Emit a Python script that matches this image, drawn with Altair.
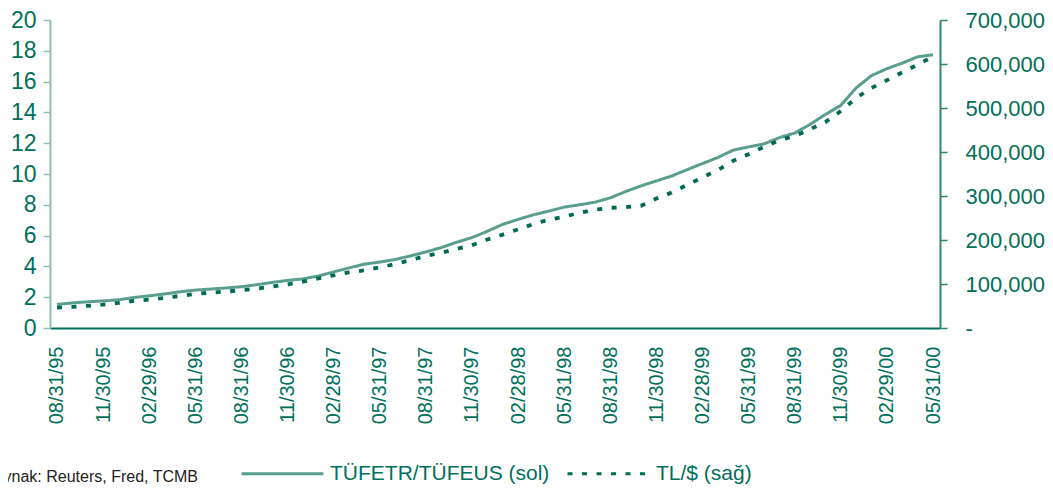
import altair as alt
import pandas as pd

# ---- data ----
S1 = "TÜFETR/TÜFEUS (sol)"
S2 = "TL/$ (sağ)"

dates = pd.date_range("1995-08-31", periods=58, freq=pd.offsets.MonthEnd())
labels = [d.strftime("%m/%d/%y") for d in dates]

tufe_ratio = [
    1.53, 1.63, 1.70, 1.76, 1.83, 1.98, 2.09, 2.21, 2.35, 2.46,
    2.53, 2.60, 2.68, 2.81, 2.96, 3.09, 3.19, 3.38, 3.64, 3.90,
    4.15, 4.28, 4.45, 4.68, 4.94, 5.22, 5.57, 5.87, 6.28, 6.73,
    7.05, 7.35, 7.59, 7.85, 8.00, 8.17, 8.45, 8.86, 9.23, 9.55,
    9.87, 10.28, 10.68, 11.07, 11.55, 11.76, 11.95, 12.36, 12.66, 13.22,
    13.87, 14.45, 15.59, 16.39, 16.84, 17.20, 17.61, 17.74,
]
tl_usd = [
    46500, 48100, 50400, 53300, 57000, 61600, 64600, 68400, 72900, 77400,
    80400, 82700, 85800, 89400, 93900, 99300, 105200, 112900, 119700, 126400,
    131000, 137700, 145200, 154200, 163900, 170700, 179700, 188100, 201000, 212200,
    224200, 236200, 246100, 252900, 261900, 268700, 273200, 274600, 277700, 294200,
    307800, 325200, 342300, 359000, 380000, 395100, 411600, 426800, 436500, 451600,
    468100, 492900, 523000, 545500, 562900, 581000, 598400, 617100,
]
left_ticks = list(range(0, 21, 2))
right_ticks = list(range(0, 700001, 100000))
x_tick_labels = labels[::3]
source_text = ["Kaynak: Reuters, Fred, TCMB"]

df = pd.DataFrame(
    {
        "date": labels * 2,
        "value": tufe_ratio + tl_usd,
        "series": [S1] * len(labels) + [S2] * len(labels),
    }
)

FONT = "Liberation Sans"
TEAL = "#00705a"
SOLID = "#5a9f8d"
DASHED = "#006b55"
LIGHT = "#8cc0b1"

legend = alt.Legend(
    title=None,
    orient="none",
    direction="horizontal",
    legendX=190,
    legendY=411,
    symbolSize=6724,
    symbolType="stroke",
    symbolStrokeWidth=3,
    labelFontSize=21,
    labelFont=FONT,
    labelColor=TEAL,
    labelOffset=5,
    labelLimit=500,
    columnPadding=11,
)

color = alt.Color(
    "series:N",
    scale=alt.Scale(domain=[S1, S2], range=[SOLID, DASHED]),
    legend=legend,
)
dash = alt.StrokeDash(
    "series:N",
    scale=alt.Scale(domain=[S1, S2], range=[[1, 0], [5, 9.5]]),
    legend=legend,
)

x = alt.X(
    "date:O",
    sort=None,
    scale=alt.Scale(type="point", domain=labels, padding=0.455),
    axis=alt.Axis(
        values=x_tick_labels,
        labelAngle=-90,
        labelAlign="right",
        labelBaseline="middle",
        labelFont=FONT,
        labelFontSize=20,
        labelColor=TEAL,
        labelPadding=18,
        ticks=False,
        domainColor=TEAL,
        domainWidth=2,
        grid=False,
        title=None,
    ),
)

base = alt.Chart(df)

left = base.transform_filter(alt.datum.series == S1).mark_line(strokeWidth=3).encode(
    x=x,
    y=alt.Y(
        "value:Q",
        scale=alt.Scale(domain=[0, 20], nice=False),
        axis=alt.Axis(
            orient="left",
            values=left_ticks,
            tickSize=7,
            tickColor=LIGHT,
            tickWidth=1.5,
            domainColor=LIGHT,
            domainWidth=2,
            labelFont=FONT,
            labelFontSize=23,
            labelColor=TEAL,
            labelPadding=7,
            grid=False,
            title=None,
        ),
    ),
    color=color,
    strokeDash=dash,
)

right = base.transform_filter(alt.datum.series == S2).mark_line(strokeWidth=3.8).encode(
    x=x,
    y=alt.Y(
        "value:Q",
        scale=alt.Scale(domain=[0, 700000], nice=False),
        axis=alt.Axis(
            orient="right",
            values=right_ticks,
            labelExpr="datum.value == 0 ? '-' : format(datum.value, ',')",
            tickSize=7,
            tickColor="#2e8572",
            tickWidth=1.5,
            domainColor="#2e8572",
            domainWidth=2,
            labelFont=FONT,
            labelFontSize=22,
            labelColor=TEAL,
            labelPadding=18,
            grid=False,
            title=None,
        ),
    ),
    color=color,
    strokeDash=dash,
)

src = alt.Chart(pd.DataFrame({"t": source_text})).mark_text(
    align="left", baseline="alphabetic", font=FONT, fontSize=16, color="#222222"
).encode(text="t:N", x=alt.value(-66), y=alt.value(462))

chart = (
    alt.layer(left, right, src)
    .resolve_scale(y="independent")
    .properties(
        width=890,
        height=308,
        autosize=alt.AutoSizeParams(type="none"),
        padding={"left": 42, "top": 12, "right": 105, "bottom": 158},
    )
    .configure_view(strokeWidth=0)
)

chart.save("out.html", embed_options={"renderer": "svg", "actions": False})
